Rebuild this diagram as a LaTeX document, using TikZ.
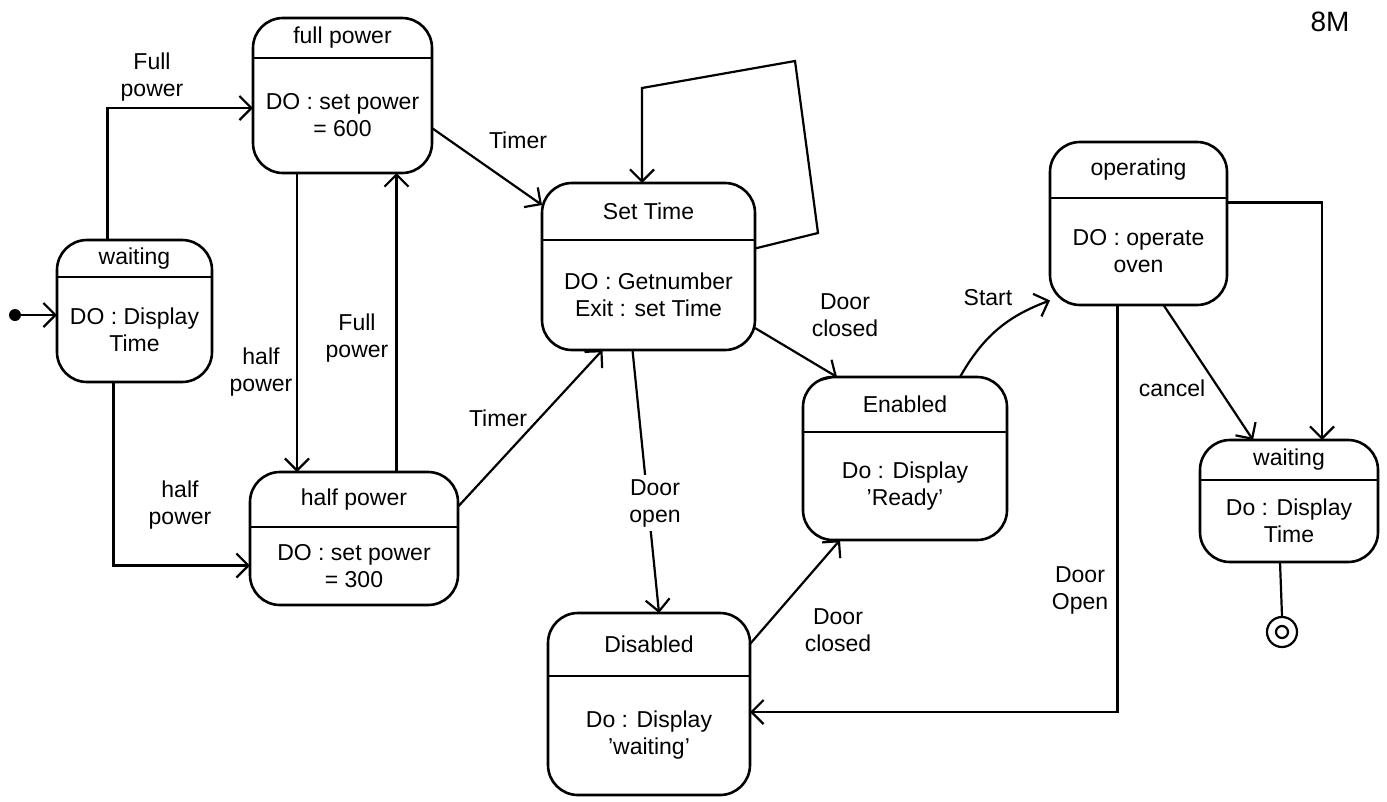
\documentclass[tikz,border=0pt]{standalone}
\usepackage{fontspec}
\setmainfont{Liberation Sans}
\usetikzlibrary{arrows.meta,calc}

\tikzset{
  stbox/.style={draw, line width=2.6pt, rounded corners=30pt, outer sep=0pt, inner sep=0pt},
  divline/.style={line width=2.4pt},
  txt/.style={font=\fontsize{23}{27}\selectfont, align=center, inner sep=1pt},
  trans/.style={line width=2.2pt, -{Straight Barb[length=12pt,width=24pt,line width=2.2pt]}},
  plainline/.style={line width=2.2pt},
  elabel/.style={txt},
}

% name, centre x, centre y, width, height, divider depth, title, activity
\newcommand\umlstate[8]{%
  \node[stbox, minimum width=#4pt, minimum height=#5pt] (#1) at (#2,#3) {};
  \draw[divline] ([yshift=-#6pt]#1.north west) -- ([yshift=-#6pt]#1.north east);
  \node[txt] (#1-title) at ([yshift=-#6pt/2]#1.north) {#7};
  \node[txt] (#1-body) at ($([yshift=-#6pt]#1.north)!0.5!(#1.south)$) {#8};
}

\begin{document}
\begin{tikzpicture}[x=1pt,y=-1pt]
  \fill[white] (0,0) rectangle (1387,801);

  % states
  \umlstate{waitL}{134.5}{311}{155}{142}{37}{waiting}{DO : Display\\Time}
  \umlstate{fullP}{342.5}{95.5}{179}{155}{40}{full power}{DO : set power\\= 600}
  \umlstate{halfP}{354}{538.5}{208}{133}{55}{half power}{DO : set power\\= 300}
  \umlstate{setT}{648.5}{266.5}{213}{167}{57}{Set Time}{DO : Getnumber\\Exit : set Time}
  \umlstate{enab}{905}{458.5}{204}{163}{55}{Enabled}{Do : Display\\'Ready'}
  \umlstate{disab}{649}{704}{202}{182}{63}{Disabled}{Do : Display\\'waiting'}
  \umlstate{oper}{1138.5}{223.5}{177}{163}{56}{operating}{DO : operate\\oven}
  \umlstate{waitR}{1289}{501}{178}{122}{40}{waiting}{Do : Display\\Time}

  % pseudo states
  \node[circle, fill=black, minimum size=12pt, inner sep=0pt] (init) at (15,315) {};
  \node[circle, draw, line width=2.2pt, minimum size=30pt, inner sep=0pt] (final) at (1282,632) {};
  \node[circle, draw, line width=2.2pt, minimum size=12pt, inner sep=0pt] (finalIn) at (final.center) {};

  \node[font=\fontsize{28}{32}\selectfont, inner sep=1pt] (mark) at (1330,22) {8M};

  % transitions
  \draw[trans] (init) -- (init -| waitL.west);

  \draw[trans] ([xshift=-27pt]waitL.north) |- ([yshift=-12.5pt]fullP.west);
  \node[elabel] (lFullA) at (152,77) {Full\\power};

  \draw[trans] ([xshift=-21pt]waitL.south) |- ([yshift=-27pt]halfP.west);
  \node[elabel] (lHalfA) at (180,505) {half\\power};

  \draw[trans] ([xshift=-45.5pt]fullP.south) -- ([xshift=-45.5pt]fullP.south |- halfP.north);
  \node[elabel] (lHalfB) at (261,372) {half\\power};

  \draw[trans] ([xshift=54pt]fullP.south |- halfP.north) -- ([xshift=54pt]fullP.south);
  \node[elabel] (lFullB) at (357,338) {Full\\power};

  \draw[trans] (fullP.-20) -- (setT.150);
  \node[elabel] (lTimerA) at (518,140) {Timer};

  \draw[trans] (halfP.17) -- ([xshift=-46pt]setT.south);
  \node[elabel] (lTimerB) at (498,418) {Timer};

  % self transition on Set Time
  \coordinate (loopA) at (818,233);
  \coordinate (loopB) at (795,61);
  \coordinate (loopC) at (642,88);
  \draw[trans] ([yshift=18pt]setT.east) -- (loopA) -- (loopB) -- (loopC) -- ([xshift=-6.5pt]setT.north);

  \draw[trans] ([xshift=-16pt]setT.south) -- ([xshift=10pt]disab.north);
  \node[elabel, fill=white, inner sep=4pt] (lOpen) at (655,503) {Door\\open};

  \draw[trans] (setT.-30) -- ([xshift=-68pt]enab.north);
  \node[elabel] (lClosedA) at (845,315) {Door\\closed};

  \draw[trans] ([yshift=60pt]disab.east) -- ([xshift=-65pt]enab.south);
  \node[elabel] (lClosedB) at (838,630) {Door\\closed};

  \draw[trans] ([xshift=55pt]enab.north) to[bend left=20] (oper.221);
  \node[elabel] (lStart) at (988,298) {Start};

  \draw[trans] ([xshift=25pt]oper.south) -- ([xshift=-36pt]waitR.north);
  \node[elabel] (lCancel) at (1172,388) {cancel};

  \draw[trans] ([yshift=21pt]oper.east) -| ([xshift=33pt]waitR.north);

  \draw[trans] ([xshift=-21pt]oper.south) |- ([yshift=-8pt]disab.east);
  \node[elabel] (lOpenB) at (1080,590) {Door\\Open};

  \draw[plainline] ([xshift=-9pt]waitR.south) -- (final.north);
\end{tikzpicture}
\end{document}
